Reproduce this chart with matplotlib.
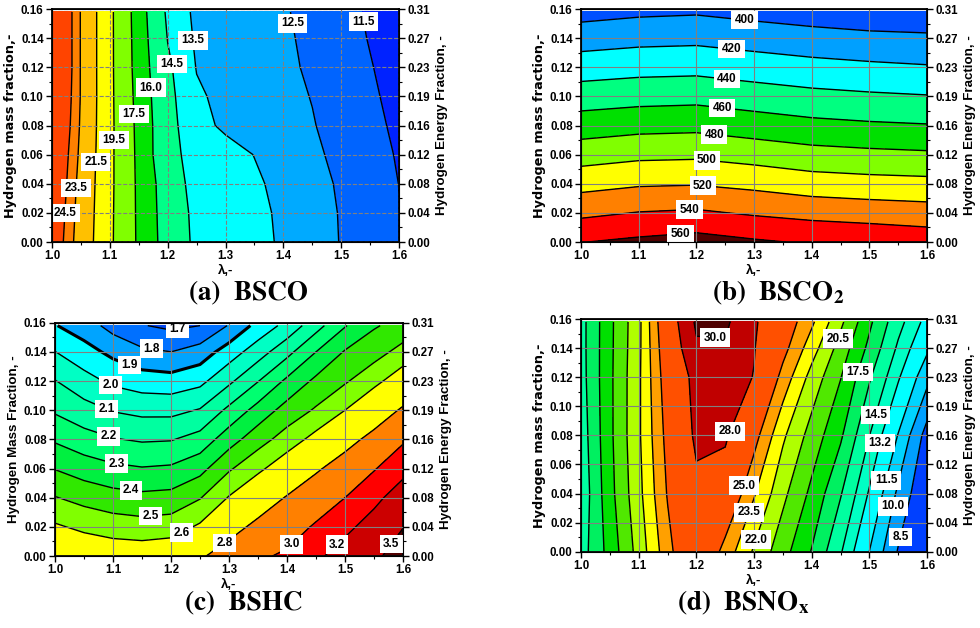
"""
Brake-specific emission maps (BSCO, BSCO2, BSHC, BSNOx) over lambda and
hydrogen mass fraction, with hydrogen energy fraction on the right axis.
"""

import matplotlib
matplotlib.use("Agg")
import matplotlib.pyplot as plt
from matplotlib.ticker import MultipleLocator, FormatStrFormatter

plt.rcParams['font.family'] = ['Liberation Sans', 'DejaVu Sans']
plt.rcParams['font.weight'] = 'bold'
plt.rcParams['axes.labelweight'] = 'bold'
plt.rcParams['mathtext.fontset'] = 'stix'

# ---- grids ----
LAMBDA = [1.00, 1.05, 1.10, 1.15, 1.20, 1.25, 1.30, 1.35, 1.40, 1.45, 1.50, 1.55, 1.60]
LAMBDA_B = [1.0, 1.1, 1.2, 1.3, 1.4, 1.5, 1.6]
H2_MASS = [0.00, 0.02, 0.04, 0.06, 0.08, 0.10, 0.12, 0.14, 0.158]
H2_MASS_D = [0.00, 0.04, 0.08, 0.12, 0.14, 0.158]

TICK_POS = [0.00, 0.02, 0.04, 0.06, 0.08, 0.10, 0.12, 0.14, 0.16]
HEF_LABELS = ["0.00", "0.04", "0.08", "0.12", "0.16", "0.19", "0.23", "0.27", "0.31"]

# (a) BSCO, rows = hydrogen mass fraction, columns = lambda
BSCO = [
    [25.60, 22.78, 19.81, 17.23, 15.36, 14.25, 14.06, 13.74, 13.39, 12.92, 12.46, 12.00, 11.56],
    [25.78, 22.90, 19.84, 17.20, 15.29, 14.20, 14.03, 13.72, 13.35, 12.90, 12.44, 11.97, 11.52],
    [26.00, 23.03, 19.88, 17.17, 15.21, 14.05, 13.98, 13.64, 13.25, 12.82, 12.38, 11.93, 11.49],
    [26.16, 23.21, 19.89, 17.11, 14.85, 14.10, 13.86, 13.48, 13.08, 12.68, 12.26, 11.84, 11.42],
    [26.47, 23.34, 19.91, 17.04, 14.88, 13.81, 13.33, 13.07, 12.81, 12.55, 12.17, 11.74, 11.32],
    [26.65, 23.42, 19.90, 16.91, 14.82, 13.63, 13.27, 13.01, 12.74, 12.47, 12.06, 11.64, 11.23],
    [26.90, 23.42, 19.89, 16.78, 14.70, 13.46, 13.20, 12.94, 12.68, 12.37, 11.96, 11.55, 11.13],
    [26.90, 23.42, 19.89, 16.72, 14.46, 13.35, 13.15, 12.89, 12.64, 12.30, 11.87, 11.45, 11.03],
    [26.90, 23.42, 19.89, 16.65, 14.28, 13.28, 13.11, 12.85, 12.59, 12.22, 11.80, 11.38, 10.95],
]
BSCO_LEVELS = [10.0, 11.5, 12.5, 13.5, 14.5, 16.0, 17.5, 19.5, 21.5, 23.5, 24.5, 30.0]
BSCO_COLORS = ['#0022FF', '#0064FF', '#00AAFF', '#00FFFF', '#00FF88', '#00E400',
               '#80FF00', '#FFFF00', '#FFC000', '#FF8000', '#FF4400']

# (b) BSCO2
BSCO2 = [
    [559.5, 564.0, 568.0, 562.5, 558.0, 555.8, 552.0],
    [535.6, 540.8, 542.9, 537.7, 533.7, 531.0, 528.7],
    [513.3, 517.8, 518.9, 514.9, 509.4, 507.1, 505.7],
    [491.1, 495.4, 496.4, 491.9, 487.1, 484.7, 483.0],
    [470.0, 473.5, 474.7, 470.0, 465.4, 462.8, 461.1],
    [450.0, 452.7, 453.9, 449.5, 445.4, 442.9, 441.0],
    [430.5, 433.3, 434.2, 430.2, 426.5, 423.8, 421.6],
    [411.0, 414.1, 415.2, 411.4, 407.6, 404.8, 403.3],
    [393.0, 396.5, 398.0, 394.0, 390.5, 387.6, 386.8],
]
BSCO2_LEVELS = [380, 400, 420, 440, 460, 480, 500, 520, 540, 560, 580]
BSCO2_COLORS = ['#0050FF', '#00A0FF', '#00FFFF', '#00FF80', '#00E000',
                '#80FF00', '#FFFF00', '#FF8000', '#FF0000', '#500000']

# (c) BSHC
BSHC = [
    [2.720, 2.689, 2.671, 2.666, 2.680, 2.780, 2.873, 2.973, 3.027, 3.159, 3.296, 3.430, 3.670],
    [2.614, 2.578, 2.553, 2.541, 2.552, 2.616, 2.740, 2.840, 2.919, 3.021, 3.148, 3.290, 3.491],
    [2.505, 2.467, 2.439, 2.425, 2.433, 2.494, 2.607, 2.707, 2.811, 2.900, 3.000, 3.144, 3.311],
    [2.396, 2.353, 2.321, 2.306, 2.315, 2.367, 2.487, 2.576, 2.671, 2.779, 2.875, 2.986, 3.137],
    [2.287, 2.239, 2.206, 2.189, 2.194, 2.238, 2.356, 2.459, 2.544, 2.636, 2.743, 2.848, 2.973],
    [2.187, 2.138, 2.094, 2.073, 2.072, 2.107, 2.224, 2.338, 2.440, 2.512, 2.600, 2.705, 2.821],
    [2.104, 2.037, 1.980, 1.950, 1.941, 1.973, 2.079, 2.196, 2.320, 2.422, 2.488, 2.569, 2.668],
    [2.002, 1.938, 1.875, 1.820, 1.800, 1.844, 1.949, 2.053, 2.169, 2.300, 2.408, 2.460, 2.535],
    [1.905, 1.850, 1.763, 1.705, 1.680, 1.700, 1.807, 1.933, 2.031, 2.162, 2.293, 2.390, 2.437],
]
BSHC_LEVELS = [1.6, 1.7, 1.8, 1.9, 2.0, 2.1, 2.2, 2.3, 2.4, 2.5, 2.6, 2.8, 3.0, 3.2, 3.5, 3.8]
BSHC_COLORS = ['#0044F0', '#0070FF', '#00A4FF', '#00FFFF', '#00FFC4', '#00FFA0',
               '#00FF70', '#00F040', '#30E800', '#80FF00', '#FFFF00', '#FF8000',
               '#FF0000', '#CC0000', '#500000']

# (d) BSNOx
BSNOX = [
    [15.31, 18.06, 21.07, 24.44, 27.30, 24.40, 21.79, 19.56, 17.41, 14.65, 11.48, 8.37, 6.50],
    [14.94, 18.50, 21.55, 25.12, 27.50, 26.80, 23.65, 20.87, 18.64, 16.12, 13.03, 9.69, 7.00],
    [15.18, 18.66, 21.76, 25.53, 28.40, 28.30, 25.63, 22.26, 19.89, 17.74, 14.52, 11.42, 7.86],
    [15.41, 18.68, 21.73, 25.98, 28.70, 29.00, 27.93, 24.44, 21.44, 19.06, 16.18, 13.37, 10.47],
    [15.45, 18.65, 21.65, 26.35, 29.75, 29.80, 28.10, 25.57, 22.67, 19.87, 17.12, 14.25, 11.78],
    [15.45, 18.63, 21.60, 26.71, 30.30, 30.35, 28.28, 26.19, 23.78, 20.83, 17.80, 15.00, 12.71],
]
BSNOX_LEVELS = [5.0, 8.5, 10.0, 11.5, 13.2, 14.5, 16.0, 17.5, 19.0, 20.5,
                22.0, 23.5, 25.0, 28.0, 30.0, 32.0]
BSNOX_COLORS = ['#0040FF', '#00A0FF', '#00D4FF', '#00FFFF', '#00FFC4', '#00FFA0',
                '#00F060', '#00E000', '#50E800', '#B0FF00', '#FFFF00', '#FFA000',
                '#FF5000', '#C00000', '#500000']
BSNOX_LABELED = [8.5, 10.0, 11.5, 13.2, 14.5, 17.5, 20.5, 22.0, 23.5, 25.0, 28.0, 30.0]

# where the inline value boxes sit (lambda, mass fraction)
BSCO_LABEL_XY = [(1.025, 0.020), (1.044, 0.037), (1.078, 0.055), (1.109, 0.070),
                 (1.143, 0.088), (1.171, 0.106), (1.204, 0.122), (1.230, 0.138),
                 (1.412, 0.150), (1.533, 0.151)]
BSCO2_LABEL_XY = [(1.283, 0.152), (1.261, 0.133), (1.253, 0.112), (1.245, 0.092),
                  (1.231, 0.074), (1.218, 0.056), (1.211, 0.038), (1.188, 0.022),
                  (1.172, 0.007)]
BSHC_LABEL_XY = [(1.211, 0.155), (1.165, 0.140), (1.126, 0.128), (1.096, 0.117),
                 (1.088, 0.100), (1.092, 0.082), (1.106, 0.063), (1.131, 0.045),
                 (1.165, 0.027), (1.217, 0.017), (1.292, 0.009), (1.408, 0.008),
                 (1.486, 0.008), (1.581, 0.008)]
BSNOX_LABEL_XY = [(1.556, 0.010), (1.542, 0.031), (1.530, 0.049), (1.515, 0.075),
                  (1.510, 0.094), (1.484, 0.123), (1.456, 0.145), (1.305, 0.008),
                  (1.299, 0.026), (1.286, 0.045), (1.250, 0.084), (1.231, 0.139)]

fig = plt.figure(figsize=(9.8, 6.28), dpi=100)


def draw_panel(rect, lam, h2, z, levels, colors, labeled, label_xy, fmt,
               ylabel, ylabel_font=('DejaVu Sans', 9.3), grid_style='-', thick=None):
    ax = fig.add_axes(rect)
    ax.contourf(lam, h2, z, levels=levels, colors=colors)
    inner = levels[1:-1]
    widths = [2.2 if lv == thick else 1.0 for lv in inner]
    ax.contour(lam, h2, z, levels=inner, colors='black', linewidths=widths)
    # separate (invisible) set only for the labelled levels
    lab_cs = ax.contour(lam, h2, z, levels=labeled, colors='none', linewidths=0)
    texts = ax.clabel(lab_cs, manual=label_xy, inline=False, fmt=fmt, fontsize=8.5,
                      colors='black')
    for t in texts:
        t.set_rotation(0)
        t.set_fontweight('bold')
        t.set_bbox(dict(facecolor='white', edgecolor='none', pad=2.4))
        t.set_zorder(5)

    ax.set_xlim(1.0, 1.6)
    ax.set_ylim(0.0, 0.16)
    ax.xaxis.set_major_locator(MultipleLocator(0.1))
    ax.xaxis.set_minor_locator(MultipleLocator(0.05))
    ax.xaxis.set_major_formatter(FormatStrFormatter('%.1f'))
    ax.set_yticks(TICK_POS)
    ax.yaxis.set_minor_locator(MultipleLocator(0.01))
    ax.yaxis.set_major_formatter(FormatStrFormatter('%.2f'))
    ax.tick_params(which='major', direction='out', length=4, width=1, labelsize=8.3, pad=2)
    ax.tick_params(which='minor', direction='out', length=2, width=0.8)
    ax.set_axisbelow(False)
    ax.grid(True, which='major', color='#808080', linewidth=0.8, linestyle=grid_style)
    for spine in ax.spines.values():
        spine.set_linewidth(1.3)
    ax.set_xlabel("λ,-", fontsize=9.5, fontweight='bold', labelpad=2)
    ax.set_ylabel(ylabel, family=ylabel_font[0], fontsize=ylabel_font[1],
                  fontweight='bold', labelpad=3)

    ax2 = ax.twinx()
    ax2.set_ylim(0.0, 0.16)
    ax2.set_yticks(TICK_POS)
    ax2.set_yticklabels(HEF_LABELS)
    ax2.yaxis.set_minor_locator(MultipleLocator(0.01))
    ax2.tick_params(which='major', direction='out', length=4, width=1, labelsize=8.3, pad=2)
    ax2.tick_params(which='minor', direction='out', length=2, width=0.8)
    ax2.set_ylabel("Hydrogen Energy Fraction, -", fontsize=9.6, fontweight='bold',
                   labelpad=4)
    return ax


draw_panel([0.0531, 0.6146, 0.3541, 0.3710], LAMBDA, H2_MASS, BSCO, BSCO_LEVELS,
           BSCO_COLORS, BSCO_LEVELS[1:-1], BSCO_LABEL_XY, '%.1f',
           "Hydrogen mass fraction,-", grid_style='--')
draw_panel([0.5929, 0.6146, 0.3531, 0.3710], LAMBDA_B, H2_MASS, BSCO2, BSCO2_LEVELS,
           BSCO2_COLORS, BSCO2_LEVELS[1:-1], BSCO2_LABEL_XY, '%d',
           "Hydrogen mass fraction,-")
draw_panel([0.0561, 0.1146, 0.3551, 0.3715], LAMBDA, H2_MASS, BSHC, BSHC_LEVELS,
           BSHC_COLORS, BSHC_LEVELS[1:-1], BSHC_LABEL_XY, '%.1f',
           "Hydrogen Mass Fraction, -", ylabel_font=('Liberation Sans', 9.6), thick=1.9)
draw_panel([0.5929, 0.1215, 0.3531, 0.3705], LAMBDA, H2_MASS_D, BSNOX, BSNOX_LEVELS,
           BSNOX_COLORS, BSNOX_LABELED, BSNOX_LABEL_XY, '%.1f',
           "Hydrogen mass fraction,-")

# panel captions
cap = dict(fontsize=19.5, fontweight='bold', family='STIXGeneral', ha='center', va='center')
fig.text(0.254, 0.533, r"(a)  BSCO", **cap)
fig.text(0.794, 0.533, r"(b)  BSCO$_\mathbf{2}$", **cap)
fig.text(0.249, 0.040, r"(c)  BSHC", **cap)
fig.text(0.758, 0.040, r"(d)  BSNO$_\mathbf{x}$", **cap)

fig.savefig("out.png", dpi=100)
